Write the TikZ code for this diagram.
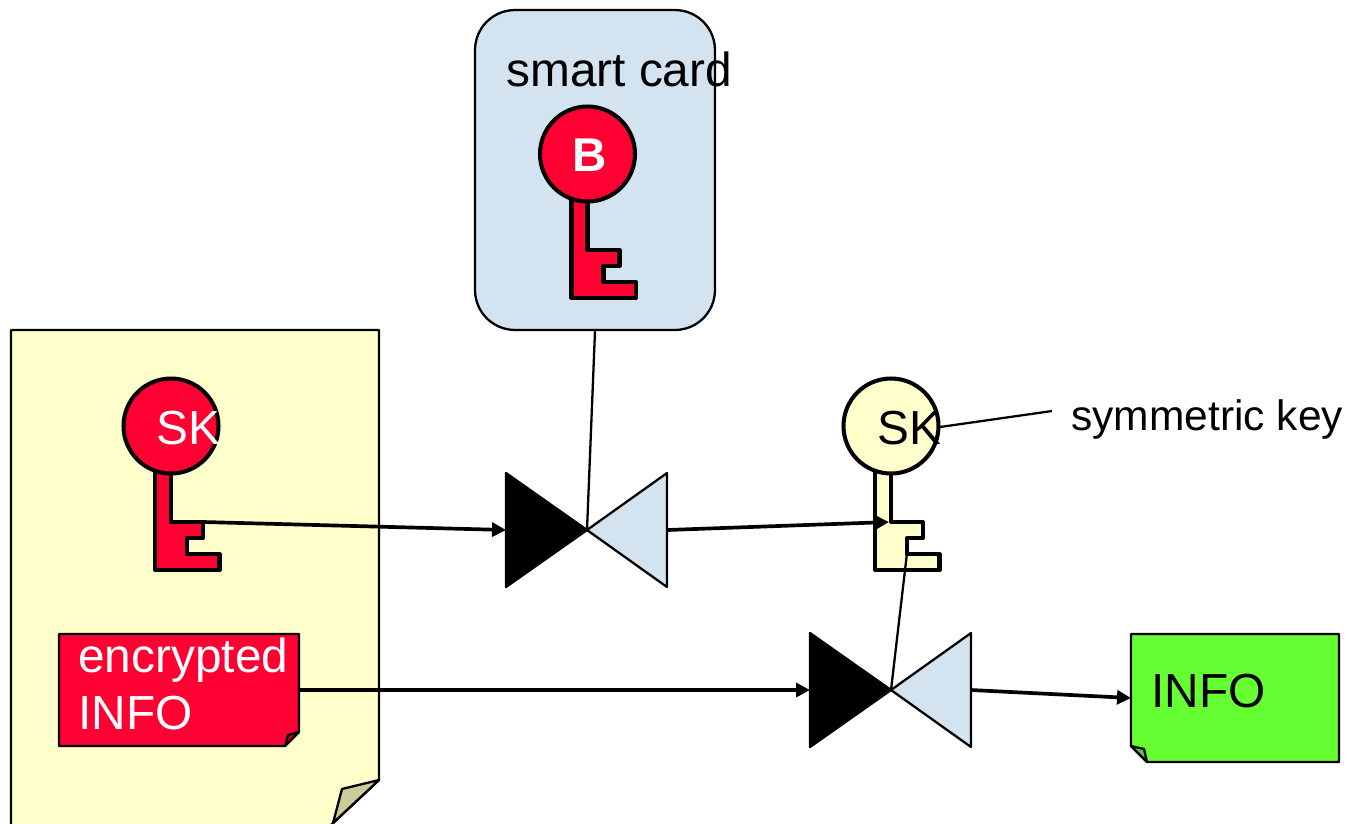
\documentclass[tikz,border=0pt]{standalone}
\usepackage{fontspec}
\setmainfont{Liberation Sans}
\usetikzlibrary{arrows.meta}
\definecolor{keyred}{HTML}{FF0033}
\definecolor{paleyellow}{HTML}{FFFFCC}
\definecolor{paleblue}{HTML}{D3E3EF}
\definecolor{infogreen}{HTML}{66FF33}
\definecolor{foldgreen}{HTML}{66CC33}
\definecolor{foldtan}{HTML}{CCCC99}
\tikzset{
  >={Triangle[length=0.28cm,width=0.28cm]},
  thinline/.style={line width=1.3pt,line join=round},
  flow/.style={->,line width=2.1pt},
  label/.style={inner sep=0pt,anchor=base west,font=\fontsize{27.2}{32}\selectfont},
  pics/keyicon/.style={code={
    \draw[line width=2.3pt,line join=round,fill=#1] (-16,40) -- (-16,144) -- (48.5,144) -- (48.5,128) -- (16,128) -- (16,112) -- (32,112) -- (32,96) -- (0,96) -- (0,40);
    \draw[line width=2.3pt,fill=#1] (0,0) circle (47.5);
  }}
}
\begin{document}
\begin{tikzpicture}[x=0.02cm,y=-0.02cm]
\clip (0,0) rectangle (1349,823);
\useasboundingbox (0,0) rectangle (1349,823);
% coordinates for the ends of the connectors
\coordinate (valvea) at (587,530);
\coordinate (valveb) at (891,690);
\coordinate (valveain) at (506,530);
\coordinate (valveaout) at (667,530);
\coordinate (valvebin) at (810,690);
\coordinate (valvebout) at (971,690);
\coordinate (skout) at (203,522);
\coordinate (keyin) at (889,522);
\coordinate (keybottom) at (907,553);
\coordinate (skedge) at (940,427);
\coordinate (symend) at (1052,411);
\coordinate (encout) at (300,690);
\coordinate (infoin) at (1131,698);
% paper
\draw[thinline,fill=paleyellow] (11,840) -- (11,330) -- (379,330) -- (379,780) -- (315,840);
\draw[thinline,fill=foldtan] (379,780) -- (342,789) -- (333,823) -- cycle;
% smart card
\node[draw,thinline,fill=paleblue,rounded corners=0.8cm,minimum width=4.8cm,minimum height=6.4cm,inner sep=0pt] (card) at (595,170) {};
\node[label] (cardtext) at (506,86) {smart card};
% keys
\path (587.5,154) pic {keyicon=keyred};
\path (171,426) pic {keyicon=keyred};
\path (891,426) pic {keyicon=paleyellow};
\node[inner sep=0pt,text=white,font=\fontsize{27}{32}\selectfont\bfseries] (bname) at (589.5,155) {B};
\node[label,text=white] (skred) at (156,444) {SK};
\node[label] (skyellow) at (877,444) {SK};
% valves
\draw[thinline,fill=black] (506,473) -- (506,587) -- (valvea) -- cycle;
\draw[thinline,fill=paleblue] (667,473) -- (667,587) -- (valvea) -- cycle;
\draw[thinline,fill=black] (810,633) -- (810,747) -- (valveb) -- cycle;
\draw[thinline,fill=paleblue] (971,633) -- (971,747) -- (valveb) -- cycle;
% encrypted note
\draw[thinline,fill=keyred] (59,634) -- (299,634) -- (299,732) -- (285,746) -- (59,746) -- cycle;
\draw[thinline,fill=keyred!75!black] (299,732) -- (288,735) -- (285,746) -- cycle;
\node[label,text=white] (enca) at (78,672) {encrypted};
\node[label,text=white] (encb) at (78,729) {INFO};
% info note
\draw[thinline,fill=infogreen] (1131,634) -- (1339,634) -- (1339,762) -- (1147,762) -- (1131,746) -- cycle;
\draw[thinline,fill=foldgreen] (1131,746) -- (1144,749) -- (1147,762) -- cycle;
\node[label] (infotext) at (1151,707) {INFO};
\node[label,font=\fontsize{24.2}{29}\selectfont] (symtext) at (1071,430) {symmetric key};
% connectors
\draw[thinline] (card.south) -- (valvea);
\draw[thinline] (keybottom) -- (valveb);
\draw[thinline] (skedge) -- (symend);
\draw[flow] (skout) -- (valveain);
\draw[flow] (valveaout) -- (keyin);
\draw[flow] (encout) -- (valvebin);
\draw[flow] (valvebout) -- (infoin);
\end{tikzpicture}
\end{document}
